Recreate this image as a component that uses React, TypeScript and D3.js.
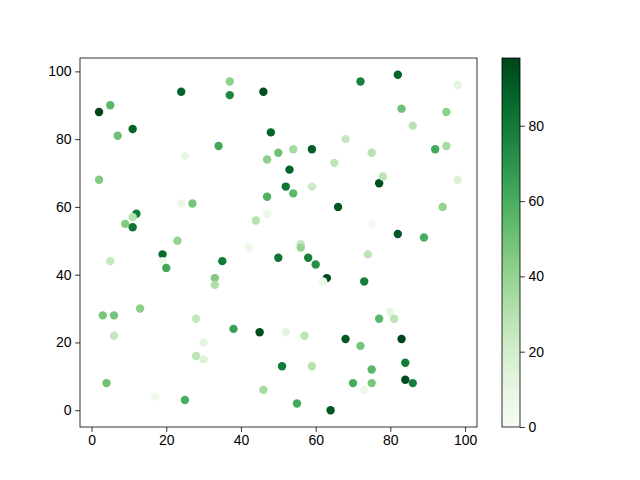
import React, { useEffect, useRef } from 'react';
import * as d3 from 'd3';

// x, y, colour value
const xs = [72, 82, 98, 83, 95, 86, 48, 68, 50, 54, 59, 75, 92, 95, 47, 65, 53, 52, 54, 59,
  77, 78, 98, 47, 47, 66, 94, 75, 82, 89, 37, 24, 37, 46, 5, 2, 11, 7, 34, 25,
  2, 44, 24, 27, 12, 11, 9, 11, 23, 42, 19, 19, 5, 20, 35, 50, 33, 33, 13, 3,
  6, 28, 6, 38, 45, 30, 28, 30, 51, 4, 46, 17, 25, 56, 56, 58, 60, 63, 62, 73,
  74, 80, 77, 81, 52, 57, 68, 83, 72, 59, 84, 75, 84, 86, 70, 75, 73, 55, 64];
const ys = [97, 99, 96, 89, 88, 84, 82, 80, 76, 77, 77, 76, 77, 78, 74, 73, 71, 66, 64, 66,
  67, 69, 68, 63, 58, 60, 60, 55, 52, 51, 97, 94, 93, 94, 90, 88, 83, 81, 78, 75,
  68, 56, 61, 61, 58, 57, 55, 54, 50, 48, 46, 44, 44, 42, 44, 45, 39, 37, 30, 28,
  28, 27, 22, 24, 23, 20, 16, 15, 13, 8, 6, 4, 3, 49, 48, 45, 43, 39, 38, 38,
  46, 29, 27, 27, 23, 22, 21, 21, 19, 13, 14, 12, 9, 8, 8, 8, 6, 2, 0];
const cs = [78, 88, 12, 50, 42, 30, 88, 25, 50, 35, 90, 30, 62, 35, 42, 28, 88, 82, 55, 22,
  95, 28, 15, 58, 8, 92, 40, 5, 92, 60, 42, 88, 75, 95, 55, 98, 88, 50, 62, 8,
  45, 30, 8, 48, 80, 30, 45, 82, 40, 8, 85, 5, 25, 62, 80, 82, 45, 32, 42, 48,
  48, 25, 25, 65, 95, 12, 28, 15, 80, 50, 35, 5, 60, 25, 40, 78, 72, 95, 8, 78,
  28, 10, 55, 28, 12, 28, 92, 98, 48, 30, 80, 55, 95, 78, 60, 48, 8, 62, 92];

const xTicks = [0, 20, 40, 60, 80, 100];
const yTicks = [0, 20, 40, 60, 80, 100];
const cTicks = [0, 20, 40, 60, 80];

export default function App() {
  const ref = useRef<SVGSVGElement>(null);

  useEffect(() => {
    if (!ref.current) return;
    const svg = d3.select(ref.current);
    svg.selectAll('*').remove();

    const left = 80, right = 477, top = 58, bottom = 427;
    const font = 'Liberation Sans';
    const fs = 14;

    const x = d3.scaleLinear().domain([-3.1, 103.2]).range([left, right]);
    const y = d3.scaleLinear().domain([-4.95, 103.95]).range([bottom, top]);
    const cMin = 0, cMax = 98;
    const color = d3.scaleSequential(d3.interpolateGreens).domain([cMin, cMax]);

    svg.append('rect').attr('width', 640).attr('height', 480).attr('fill', '#fff');

    const pts = xs.map((v, i) => ({ x: v, y: ys[i], c: cs[i] }));
    svg.append('g')
      .selectAll('circle')
      .data(pts)
      .join('circle')
      .attr('cx', d => x(d.x))
      .attr('cy', d => y(d.y))
      .attr('r', 4.2)
      .attr('fill', d => color(d.c));

    // axes
    const xAxis = svg.append('g')
      .attr('transform', `translate(0,${bottom})`)
      .call(d3.axisBottom(x).tickValues(xTicks).tickSize(4.9).tickPadding(3.5).tickSizeOuter(0));
    const yAxis = svg.append('g')
      .attr('transform', `translate(${left},0)`)
      .call(d3.axisLeft(y).tickValues(yTicks).tickSize(4.9).tickPadding(3.5).tickSizeOuter(0));
    [xAxis, yAxis].forEach(a => {
      a.select('.domain').remove();
      a.selectAll('text').attr('font-family', font).attr('font-size', fs).attr('fill', '#000');
      a.selectAll('line').attr('stroke', '#000').attr('stroke-width', 0.8);
    });

    svg.append('rect')
      .attr('x', left).attr('y', top)
      .attr('width', right - left).attr('height', bottom - top)
      .attr('fill', 'none').attr('stroke', '#000').attr('stroke-width', 0.8);

    // colorbar
    const cbL = 502, cbR = 520;
    const cy = d3.scaleLinear().domain([cMin, cMax]).range([bottom, top]);
    const defs = svg.append('defs');
    const grad = defs.append('linearGradient')
      .attr('id', 'cbgrad').attr('x1', 0).attr('y1', 1).attr('x2', 0).attr('y2', 0);
    d3.range(0, 1.0001, 0.05).forEach(t => {
      grad.append('stop').attr('offset', t).attr('stop-color', d3.interpolateGreens(t));
    });
    svg.append('rect')
      .attr('x', cbL).attr('y', top).attr('width', cbR - cbL).attr('height', bottom - top)
      .attr('fill', 'url(#cbgrad)').attr('stroke', '#000').attr('stroke-width', 0.8);
    const cAxis = svg.append('g')
      .attr('transform', `translate(${cbR},0)`)
      .call(d3.axisRight(cy).tickValues(cTicks).tickSize(4.9).tickPadding(3.5).tickSizeOuter(0));
    cAxis.select('.domain').remove();
    cAxis.selectAll('text').attr('font-family', font).attr('font-size', fs).attr('fill', '#000');
    cAxis.selectAll('line').attr('stroke', '#000').attr('stroke-width', 0.8);
  }, []);

  return (
    <svg ref={ref} width={640} height={480}
      style={{ position: 'absolute', left: 0, top: 0, display: 'block' }} />
  );
}
